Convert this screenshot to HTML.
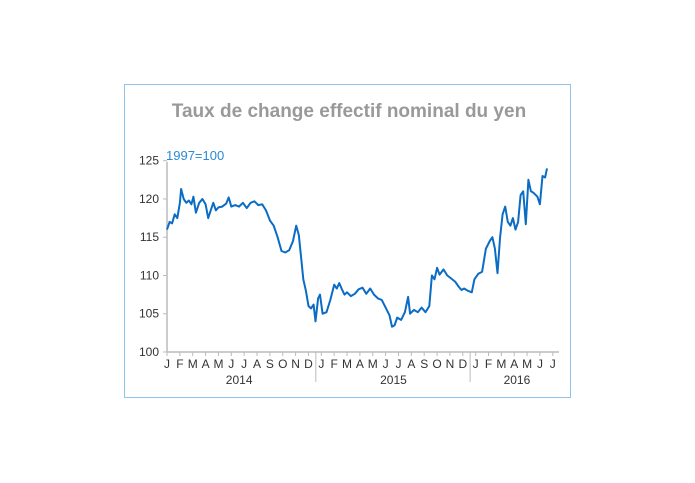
<!DOCTYPE html>
<html><head><meta charset="utf-8"><style>
html,body{margin:0;padding:0;background:#fff;}
svg{display:block;font-family:"Liberation Sans",sans-serif;}
</style></head><body>
<svg width="695" height="483" viewBox="0 0 695 483">
<rect x="124.5" y="84.5" width="446" height="313" fill="#fff" stroke="#8fc3ea" stroke-width="1"/>
<text x="349" y="117" text-anchor="middle" font-size="19" font-weight="bold" fill="#999">Taux de change effectif nominal du yen</text>
<text x="166" y="160" font-size="13" fill="#2a8ad4">1997=100</text>
<g id="axes"></g>
<path id="line" fill="none" stroke="#0a6cc4" stroke-width="2" stroke-linejoin="round"/>
</svg>
<script>
const yTicks=[100,105,110,115,120,125];
const monthLabels=["J","F","M","A","M","J","J","A","S","O","N","D","J","F","M","A","M","J","J","A","S","O","N","D","J","F","M","A","M","J","J"];
const yearLabels=["2014","2015","2016"];
// time in months since Jan 2014
const months=[0,.2,.4,.6,.8,1.0,1.1,1.3,1.5,1.7,1.9,2.05,2.25,2.5,2.75,3.0,3.2,3.4,3.6,3.8,4.0,4.3,4.6,4.8,5.0,5.3,5.6,5.9,6.2,6.5,6.8,7.1,7.4,7.7,8.0,8.3,8.6,8.9,9.2,9.5,9.8,10.05,10.25,10.45,10.6,10.8,11.0,11.2,11.4,11.55,11.75,11.9,12.1,12.4,12.7,13.0,13.2,13.4,13.6,13.8,14.0,14.3,14.6,14.9,15.2,15.5,15.8,16.1,16.4,16.7,17.0,17.3,17.5,17.7,17.9,18.2,18.5,18.75,18.9,19.2,19.5,19.8,20.1,20.4,20.6,20.8,21.0,21.2,21.5,21.8,22.1,22.4,22.7,22.9,23.1,23.4,23.7,23.9,24.2,24.5,24.8,25.1,25.3,25.5,25.7,25.9,26.1,26.3,26.5,26.7,26.9,27.1,27.3,27.5,27.7,27.9,28.1,28.3,28.5,28.8,29.0,29.2,29.4,29.55];
const values=[116,117,116.8,118,117.5,119.5,121.3,120,119.5,119.8,119.3,120.3,118.2,119.5,120,119.3,117.5,118.5,119.5,118.5,118.9,119,119.4,120.2,119,119.2,119,119.5,118.8,119.5,119.7,119.2,119.3,118.5,117.2,116.5,115,113.2,113,113.3,114.5,116.5,115.3,112,109.5,108,106,105.7,106.2,104,107,107.5,105,105.2,106.8,108.8,108.3,109,108.2,107.5,107.8,107.3,107.6,108.2,108.4,107.6,108.3,107.5,107,106.8,105.8,104.8,103.3,103.5,104.5,104.2,105.2,107.2,105,105.5,105.2,105.8,105.2,106,110,109.5,111,110.1,110.8,110,109.6,109.2,108.5,108.1,108.3,108,107.8,109.5,110.2,110.5,113.5,114.5,115,113.5,110.3,115,118,119,117,116.5,117.5,116,117,120.5,121,116.7,122.5,121,120.8,120.3,119.3,123,122.8,124];
const x0=167,x1=559,yb=352,yt=160.7,perMonth=12.86;
const X=m=>x0+m*perMonth;
const Y=v=>yb-(v-100)/(125-100)*(yb-yt);
const NS="http://www.w3.org/2000/svg";
const g=document.getElementById('axes');
function mk(t,a){const e=document.createElementNS(NS,t);for(const k in a)e.setAttribute(k,a[k]);g.appendChild(e);return e;}
let e=mk('line',{x1:x0,y1:Y(100),x2:x0,y2:Y(125)+1,stroke:'#bbb','stroke-width':1.5});


e=mk('line',{x1:x0,y1:yb,x2:x1,y2:yb,stroke:'#bbb','stroke-width':1.5});


yTicks.forEach(v=>{
 const t=mk('line',{x1:x0-4,y1:Y(v),x2:x0,y2:Y(v),stroke:'#bbb'});
 
 
 const l=mk('text',{x:x0-8,y:Y(v)+4,'text-anchor':'end','font-size':12,fill:'#333'});
 l.textContent=v;
 
 
});
monthLabels.forEach((m,i)=>{
 const tk=mk('line',{x1:X(i),y1:yb,x2:X(i),y2:yb+4,stroke:'#bbb'});
 
 
 const l=mk('text',{x:X(i),y:yb+16,'text-anchor':'middle','font-size':12,fill:'#333'});
 l.textContent=m;
 
 
});
const yearCenters=[6,18,27.6];
yearLabels.forEach((y,i)=>{
 if(i>0){const s=mk('line',{x1:X(i*12)-5.5,y1:yb,x2:X(i*12)-5.5,y2:yb+30,stroke:'#bbb'});
 
 }
 const l=mk('text',{x:X(yearCenters[i])-5,y:yb+32,'text-anchor':'middle','font-size':12,fill:'#333'});
 l.textContent=y;
 
 
});
document.getElementById('line').setAttribute('d',months.map((m,i)=>(i?'L':'M')+X(m).toFixed(1)+','+Y(values[i]).toFixed(1)).join(''));
</script>
</body></html>
